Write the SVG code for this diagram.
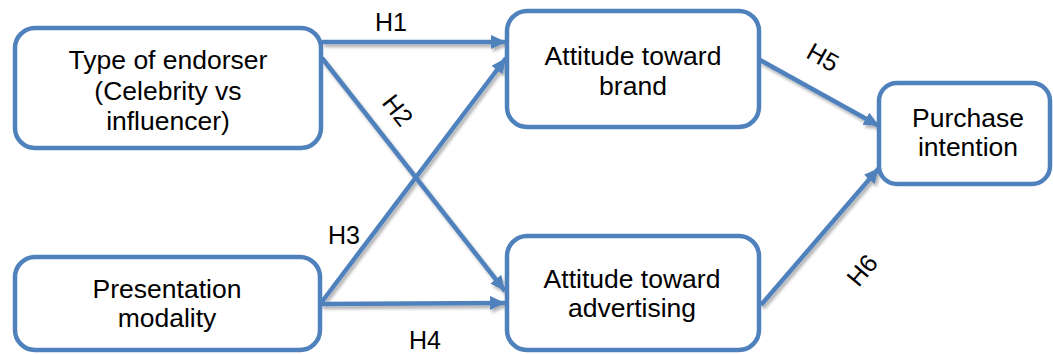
<svg xmlns="http://www.w3.org/2000/svg" width="1053" height="354" viewBox="0 0 1053 354">
<style>
.box{fill:#fff;stroke:#4F81BD;stroke-width:4.5}
.t{font-family:"Liberation Sans",Arial,sans-serif;font-size:26.5px;fill:#000;text-anchor:middle}
.lbl{font-family:"Liberation Sans",Arial,sans-serif;font-size:25px;fill:#000;text-anchor:middle}
.c{fill:none;stroke:#4F81BD;stroke-width:4.5;marker-end:url(#ah)}
</style>
<defs>
<marker id="ah" markerUnits="userSpaceOnUse" markerWidth="18" markerHeight="16" refX="15" refY="7" orient="auto">
<path d="M0,0 L15,7 L0,14 z" fill="#4F81BD"/>
</marker>
<filter id="sh" x="-10%" y="-10%" width="130%" height="130%">
<feDropShadow dx="2" dy="3" stdDeviation="1.5" flood-color="#000" flood-opacity="0.3"/>
</filter>
</defs>
<rect width="1053" height="354" fill="#fff"/>
<g id="connectors" filter="url(#sh)">
<line class="c" x1="322" y1="42" x2="506" y2="42"/>
<line class="c" x1="322" y1="58" x2="505" y2="291"/>
<line class="c" x1="321" y1="303" x2="506" y2="58"/>
<line class="c" x1="321" y1="304" x2="505" y2="303"/>
<line class="c" x1="760" y1="60" x2="879" y2="126"/>
<line class="c" x1="761" y1="305" x2="879" y2="168"/>
</g>
<g id="labels">
<text class="lbl" x="391" y="31">H1</text>
<text class="lbl" transform="translate(398,110) rotate(52)" y="9">H2</text>
<text class="lbl" x="344" y="244">H3</text>
<text class="lbl" x="425" y="349">H4</text>
<text class="lbl" transform="translate(823,57) rotate(29)" y="9">H5</text>
<text class="lbl" transform="translate(862,270) rotate(-50)" y="9">H6</text>
</g>
<g id="endorser">
<rect class="box" x="15" y="28" width="306" height="120" rx="20"/>
<text class="t" x="168" y="69">Type of endorser</text>
<text class="t" x="168" y="100">(Celebrity vs</text>
<text class="t" x="168" y="130">influencer)</text>
</g>
<g id="modality">
<rect class="box" x="15" y="257" width="305" height="93" rx="20"/>
<text class="t" x="167" y="298">Presentation</text>
<text class="t" x="167" y="327">modality</text>
</g>
<g id="brand">
<rect class="box" x="507" y="11" width="252" height="116" rx="20"/>
<text class="t" x="633" y="65">Attitude toward</text>
<text class="t" x="633" y="95">brand</text>
</g>
<g id="advertising">
<rect class="box" x="507" y="236" width="252" height="114" rx="20"/>
<text class="t" x="632" y="288">Attitude toward</text>
<text class="t" x="632" y="317">advertising</text>
</g>
<g id="purchase">
<rect class="box" x="879" y="83" width="171" height="101" rx="18"/>
<text class="t" x="968" y="127">Purchase</text>
<text class="t" x="968" y="156">intention</text>
</g>
</svg>
